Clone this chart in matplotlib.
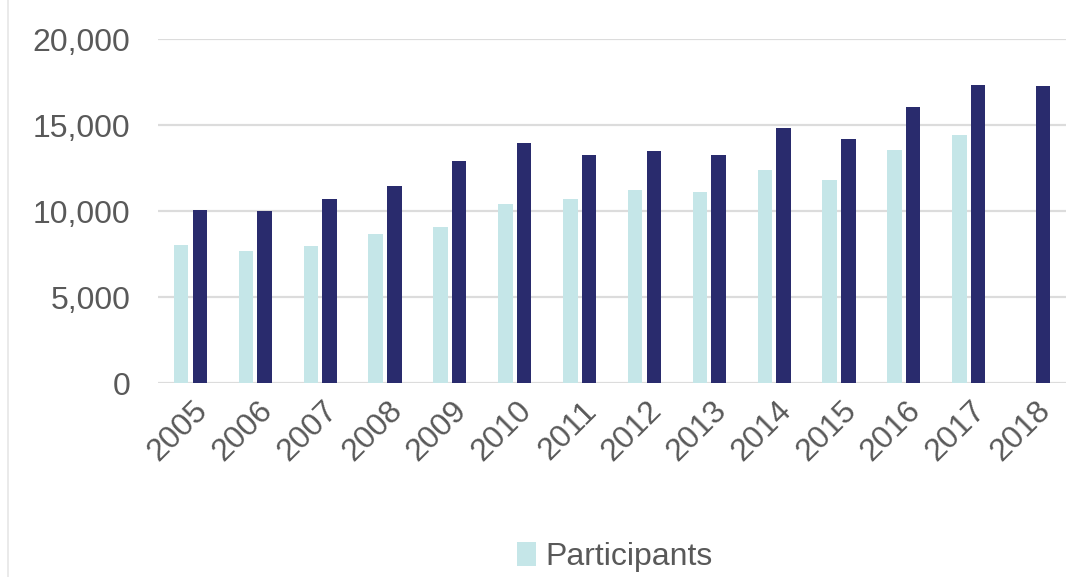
import matplotlib
matplotlib.use("Agg")
import matplotlib.pyplot as plt
import matplotlib.ticker as mticker
import matplotlib.transforms as mtransforms
from matplotlib.patches import Patch
from matplotlib.lines import Line2D
import numpy as np

LIGHT = "#C5E6E8"
DARK = "#292B6D"
GRID = "#DCDCDC"
TEXT = "#595959"

years = ["2005", "2006", "2007", "2008", "2009", "2010", "2011",
         "2012", "2013", "2014", "2015", "2016", "2017", "2018"]
participants = [8040, 7690, 8000, 8660, 9070, 10420, 10700,
                11240, 11120, 12400, 11820, 13560, 14440, np.nan]
second_series = [10080, 10020, 10700, 11450, 12920, 13990, 13270,
                 13490, 13270, 14840, 14190, 16060, 17340, 17290]

plt.rcParams["font.family"] = ["Liberation Sans", "DejaVu Sans"]

fig = plt.figure(figsize=(10.84, 5.77), dpi=100)
ax = fig.add_axes([0.1458, 0.3357, 0.8376, 0.5962])

x = np.arange(len(years))
width = 0.224
offset = 0.144
ax.bar(x - offset, participants, width, color=LIGHT, zorder=3)
ax.bar(x + offset, second_series, width, color=DARK, zorder=3)

ax.set_xlim(-0.5, len(years) - 0.5)
ax.set_ylim(0, 20000)
ax.yaxis.set_major_locator(mticker.MultipleLocator(5000))
ax.yaxis.set_major_formatter(mticker.FuncFormatter(lambda v, _: f"{v:,.0f}"))
ax.grid(axis="y", color=GRID, linewidth=1.6, zorder=0)
for side in ["top", "right", "left", "bottom"]:
    ax.spines[side].set_visible(False)
ax.axhline(0, color=GRID, linewidth=1.8, zorder=2)

ax.tick_params(axis="y", length=0, pad=20, labelsize=23, labelcolor=TEXT)
ax.tick_params(axis="x", length=0, pad=9, labelsize=23, labelcolor=TEXT)
ax.set_xticks(x)
ax.set_xticklabels(years, rotation=45, ha="right", rotation_mode="anchor")
shift = mtransforms.ScaledTranslation(2 / 100, 0, fig.dpi_scale_trans)
for lbl in ax.get_xticklabels():
    lbl.set_transform(lbl.get_transform() + shift)

fig.legend(handles=[Patch(facecolor=LIGHT, edgecolor="none")], labels=["Participants"],
           loc="center", bbox_to_anchor=(615 / 1084, 1 - 557 / 577), frameon=False,
           fontsize=23, labelcolor=TEXT, handlelength=0.6, handleheight=0.8,
           handletextpad=0.3)

# faint frame edge at the left of the picture
fig.add_artist(Line2D([8 / 1084, 8 / 1084], [0, 1], color="#E6E6E6", linewidth=1.2))

fig.savefig("out.png", dpi=100)
